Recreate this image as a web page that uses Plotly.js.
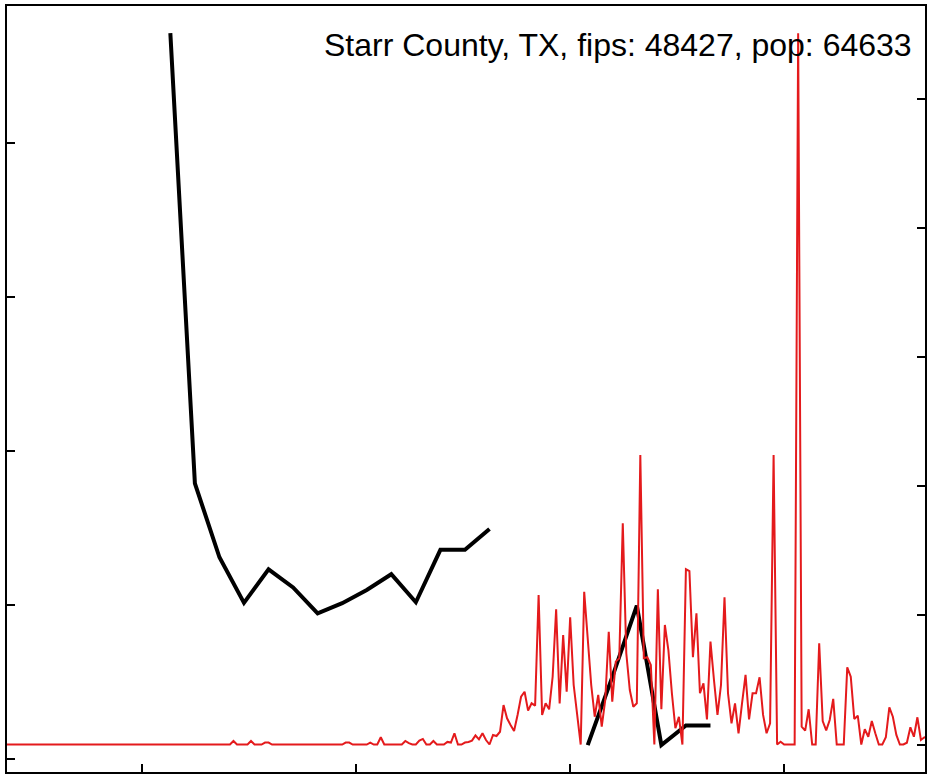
<!DOCTYPE html>
<html>
<head>
<meta charset="utf-8">
<script src="https://cdn.plot.ly/plotly-3.0.1.min.js"></script>
<style>html,body{margin:0;padding:0;background:#fff;}#chart{width:928px;height:774px;}</style>
</head>
<body>
<div id="chart"></div>
<script>
// Daily series (red, right axis), one value per day starting 2020-02-22
const dailyStart = "2020-02-22";
const dailyValues = [
  // 2020-02-22 .. 2020-04-26 (65 days)
  0,0,0,0,0,0,0,0,0,0, 0,0,0,0,0,0,0,0,0,0, 0,0,0,0,0,0,0,0,0,0,
  0,0,0,0,0,0,0,0,0,0, 0,0,0,0,0,0,0,0,0,0, 0,0,0,0,0,0,0,0,0,0,
  0,0,0,0,0,
  // d26..
  0.27,0,0,0,0, 0.27,0,0,0,0.15, 0.15,0,0,0,0, 0,0,0,0,0,
  0,0,0,0,0, 0,0,0,0,0, 0,0,0.15,0.15,0, 0,0,0,0,0.15,
  0,0,0.56,0,0, 0,0,0,0,0.27, 0.1,0,0,0.3,0.43, 0,0,0.27,0,0,
  0,0.2,0.15,0.87,0, 0,0.15,0.2,0.3,0.7, 0.4,
  // d97..
  0.87,0.35,0,0.74,0.66, 0.99,3.06,2.03,1.51,1.05, 2.29,3.70,4.09,2.62,3.19,
  3.01,11.58,2.29,3.19,2.73, 5.25,10.48,3.19,8.48,4.09, 9.86,4.61,2.42,0,11.84,
  7.84,4.61,2.15,3.84,1.38, 3.45,8.74,3.32,6.42,6.68, 17.14,7.07,4.22,2.93,3.19,
  22.43,6.68,6.76,6.16,0, 12.03,2.73,9.26,7.32,3.97, 1.26,2.15,0,13.58,13.44,
  6.76,10.17,3.97,4.74,1.95, 7.97,5.0,2.29,4.61,11.41, 3.97,1.64,3.19,0.87,3.19,
  5.39,1.95,3.97,3.97,5.21, 2.29,0.87,1.64,22.43,0, 0.22,0,0,0,0,
  55.1,1.38,1.07,2.73,0, 0,7.84,1.82,1.1,1.9, 3.53,0,0,0,5.98,
  5.25,1.98,2.23,0,1.18, 0.6,1.82,0.87,0,0, 0.56,2.88,2.15,0.74,0,
  0,0.14,1.33,0.6,2.11, 0.35,0.56,0.5
];

// Weekly series (black, left axis)
const weeklyStart = "2020-04-09";
const weeklyValues = [
  235.7, 89.5, 65.5, 50.7, 61.6, 55.7, 47.3, 50.6, 54.9, 60.0, 50.9, 67.9, 67.9, 74.7,
  null, null, null,
  4.5, 26.6, 49.8, 4.5, 10.9, 10.9
];

const titleText = "Starr County, TX, fips: 48427, pop: 64633";
const xTickVals = ["2020-04-01", "2020-06-01", "2020-08-01", "2020-10-01"];
const leftTickVals = [0, 50, 100, 150, 200];
const rightTickVals = [0, 10, 20, 30, 40, 50];

function dayList(start, n, step) {
  const t0 = Date.parse(start + "T00:00:00Z");
  const out = [];
  for (let i = 0; i < n; i++) out.push(new Date(t0 + i * step * 864e5).toISOString().slice(0, 10));
  return out;
}

const dailyDates = dayList(dailyStart, dailyValues.length, 1);
const weeklyDates = dayList(weeklyStart, weeklyValues.length, 7);

const traces = [
  {
    x: weeklyDates, y: weeklyValues, type: "scatter", mode: "lines",
    line: {color: "#000000", width: 4}, connectgaps: false, yaxis: "y", hoverinfo: "skip"
  },
  {
    x: dailyDates, y: dailyValues, type: "scatter", mode: "lines",
    line: {color: "#e41a1c", width: 2}, yaxis: "y2", hoverinfo: "skip"
  }
];

const axisCommon = {
  ticks: "inside", ticklen: 8, tickwidth: 2, tickcolor: "#000",
  showticklabels: false, showgrid: false, zeroline: false
};

const layout = {
  width: 928, height: 774,
  margin: {l: 7, r: 3, t: 6, b: 2, pad: 0},
  paper_bgcolor: "#fff", plot_bgcolor: "#fff",
  showlegend: false,
  xaxis: Object.assign({}, axisCommon, {
    type: "date", range: ["2020-02-22 10:20", "2020-11-10 04:00"],
    tickmode: "array", tickvals: xTickVals,
    showline: true, linewidth: 2, linecolor: "#000", mirror: true
  }),
  yaxis: Object.assign({}, axisCommon, {
    range: [-4.22, 244.48], tickmode: "array", tickvals: leftTickVals,
    showline: true, linewidth: 2, linecolor: "#000", mirror: true
  }),
  yaxis2: Object.assign({}, axisCommon, {
    overlaying: "y", side: "right", range: [-2.13, 57.22],
    tickmode: "array", tickvals: rightTickVals, showline: false
  }),
  annotations: [{
    text: titleText, xref: "paper", yref: "paper", x: 0.9885, y: 0.975,
    xanchor: "right", yanchor: "top", showarrow: false,
    font: {family: "Liberation Sans, Arial, sans-serif", size: 32, color: "#000"}
  }]
};

Plotly.newPlot("chart", traces, layout, {staticPlot: true, displayModeBar: false});
</script>
</body>
</html>
